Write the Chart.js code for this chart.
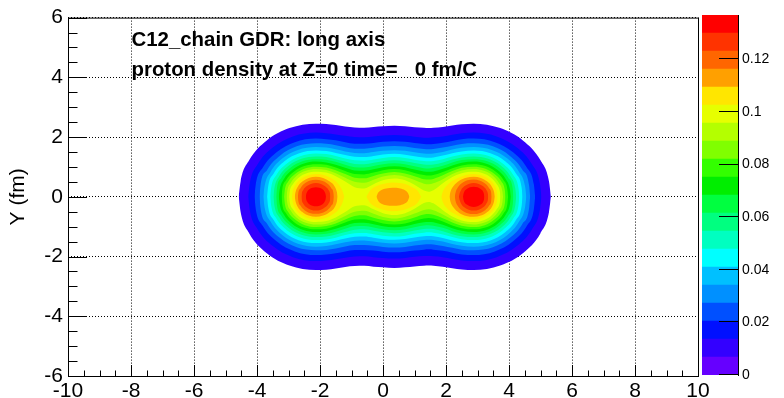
<!DOCTYPE html>
<html>
<head>
<meta charset="utf-8">
<script src="https://cdn.jsdelivr.net/npm/chart.js@4.4.1/dist/chart.umd.min.js"></script>
<style>
  html, body { margin: 0; padding: 0; background: #fff; }
  #wrap { position: relative; width: 784px; height: 398px; overflow: hidden; }
  #main { position: absolute; left: 0; top: 0; }
  #palette { position: absolute; left: 690px; top: 0; }
</style>
</head>
<body>
<div id="wrap">
  <canvas id="main" width="784" height="398"></canvas>
  <canvas id="palette" width="94" height="398"></canvas>
</div>
<script>
// contour levels (z): 20 bands from 0 to the max
const zLevels = [0, 0.00685, 0.01369, 0.02054, 0.02738, 0.03423, 0.04107, 0.04792, 0.05476, 0.06161,
  0.06845, 0.07530, 0.08214, 0.08899, 0.09583, 0.10268, 0.10952, 0.11637, 0.12321, 0.13006, 0.1369];

const bandColors = ['#6600ff', '#3300ff', '#0010ff', '#0050ff', '#0090ff', '#00c0ff', '#00ffff', '#00ffc0',
  '#00ff80', '#00ff40', '#00ee00', '#33ff00', '#80ff00', '#b4ff00', '#e6ff00', '#ffe600', '#ffa000',
  '#ff6600', '#ff3300', '#ff0000'];

// which level each outline belongs to (region above zLevels[k] gets bandColors[k])
const contourLevel = [1, 2, 3, 4, 5, 6, 7, 8, 9, 10, 11, 12, 13, 14,
  15, 15, 15, 16, 16, 16, 17, 17, 18, 18, 19, 19];

// upper half of each contour outline, [x, y] in fm (the plot is symmetric in y)
const contourUpper = [
  [[-4.58,0],[-4.52,0.51],[-4.25,1.22],[-3.70,1.88],[-2.97,2.30],[-2.13,2.45],[-1.8,2.44],[-1.5,2.40],[-1.2,2.35],[-0.9,2.32],[-0.6,2.31],[-0.3,2.34],[0,2.36],[0.36,2.38],[0.7,2.36],[1.0,2.33],[1.3,2.31],[1.45,2.30],[1.6,2.31],[1.9,2.34],[2.2,2.39],[2.5,2.43],[2.88,2.45],[3.72,2.30],[4.45,1.88],[5.00,1.22],[5.27,0.51],[5.33,0]],
  [[-4.28,0],[-4.23,0.45],[-3.99,1.07],[-3.51,1.64],[-2.86,2.02],[-2.13,2.15],[-1.8,2.13],[-1.5,2.09],[-1.2,2.04],[-0.9,2.00],[-0.6,1.99],[-0.3,2.02],[0,2.05],[0.36,2.07],[0.7,2.05],[1.0,2.01],[1.3,1.98],[1.45,1.98],[1.6,1.99],[1.9,2.02],[2.2,2.08],[2.5,2.13],[2.88,2.15],[3.61,2.02],[4.26,1.64],[4.74,1.07],[4.98,0.45],[5.03,0]],
  [[-4.08,0],[-4.04,0.41],[-3.82,0.97],[-3.38,1.49],[-2.80,1.83],[-2.13,1.95],[-1.8,1.93],[-1.5,1.89],[-1.2,1.83],[-0.9,1.78],[-0.6,1.78],[-0.3,1.80],[0,1.84],[0.36,1.86],[0.7,1.84],[1.0,1.80],[1.3,1.77],[1.45,1.76],[1.6,1.77],[1.9,1.81],[2.2,1.87],[2.5,1.93],[2.88,1.95],[3.55,1.83],[4.13,1.49],[4.57,0.97],[4.79,0.41],[4.83,0]],
  [[-3.92,0],[-3.89,0.37],[-3.68,0.90],[-3.28,1.37],[-2.74,1.69],[-2.13,1.79],[-1.8,1.78],[-1.5,1.73],[-1.2,1.66],[-0.9,1.61],[-0.6,1.61],[-0.3,1.64],[0,1.68],[0.36,1.70],[0.7,1.68],[1.0,1.63],[1.3,1.60],[1.45,1.59],[1.6,1.60],[1.9,1.65],[2.2,1.71],[2.5,1.77],[2.88,1.79],[3.49,1.69],[4.03,1.37],[4.43,0.90],[4.64,0.37],[4.67,0]],
  [[-3.80,0],[-3.76,0.35],[-3.57,0.83],[-3.20,1.28],[-2.70,1.57],[-2.13,1.67],[-1.8,1.65],[-1.5,1.59],[-1.2,1.52],[-0.9,1.47],[-0.6,1.46],[-0.3,1.50],[0,1.54],[0.36,1.56],[0.7,1.54],[1.0,1.49],[1.3,1.45],[1.45,1.44],[1.6,1.45],[1.9,1.50],[2.2,1.58],[2.5,1.64],[2.88,1.67],[3.45,1.57],[3.95,1.28],[4.32,0.83],[4.51,0.35],[4.55,0]],
  [[-3.68,0],[-3.65,0.32],[-3.47,0.78],[-3.13,1.19],[-2.66,1.46],[-2.13,1.55],[-1.8,1.53],[-1.5,1.47],[-1.2,1.40],[-0.9,1.34],[-0.6,1.33],[-0.3,1.37],[0,1.42],[0.36,1.44],[0.7,1.41],[1.0,1.36],[1.3,1.32],[1.45,1.31],[1.6,1.32],[1.9,1.38],[2.2,1.46],[2.5,1.52],[2.88,1.55],[3.41,1.46],[3.88,1.19],[4.22,0.78],[4.40,0.32],[4.43,0]],
  [[-3.58,0],[-3.55,0.30],[-3.39,0.72],[-3.06,1.11],[-2.63,1.36],[-2.13,1.45],[-1.8,1.43],[-1.5,1.37],[-1.2,1.28],[-0.9,1.22],[-0.6,1.21],[-0.3,1.25],[0,1.30],[0.36,1.33],[0.7,1.30],[1.0,1.24],[1.3,1.20],[1.45,1.19],[1.6,1.20],[1.9,1.26],[2.2,1.35],[2.5,1.42],[2.88,1.45],[3.38,1.36],[3.81,1.11],[4.14,0.72],[4.30,0.30],[4.33,0]],
  [[-3.48,0],[-3.45,0.28],[-3.30,0.68],[-3.00,1.04],[-2.59,1.27],[-2.13,1.35],[-1.8,1.33],[-1.5,1.26],[-1.2,1.18],[-0.9,1.10],[-0.6,1.09],[-0.3,1.14],[0,1.19],[0.36,1.22],[0.7,1.19],[1.0,1.13],[1.3,1.08],[1.45,1.07],[1.6,1.08],[1.9,1.15],[2.2,1.25],[2.5,1.32],[2.88,1.35],[3.34,1.27],[3.75,1.04],[4.05,0.68],[4.20,0.28],[4.23,0]],
  [[-3.39,0],[-3.37,0.26],[-3.23,0.63],[-2.94,0.97],[-2.56,1.19],[-2.13,1.26],[-1.8,1.24],[-1.5,1.17],[-1.2,1.07],[-0.9,0.99],[-0.6,0.98],[-0.3,1.03],[0,1.09],[0.36,1.12],[0.7,1.09],[1.0,1.02],[1.3,0.96],[1.45,0.95],[1.6,0.97],[1.9,1.04],[2.2,1.15],[2.5,1.23],[2.88,1.26],[3.31,1.19],[3.69,0.97],[3.98,0.63],[4.12,0.26],[4.14,0]],
  [[-3.31,0],[-3.28,0.25],[-3.15,0.59],[-2.89,0.90],[-2.53,1.11],[-2.13,1.18],[-1.8,1.15],[-1.5,1.07],[-1.2,0.97],[-0.9,0.88],[-0.6,0.87],[-0.3,0.92],[0,0.99],[0.36,1.02],[0.7,0.99],[1.0,0.91],[1.3,0.85],[1.45,0.84],[1.6,0.85],[1.9,0.94],[2.2,1.05],[2.5,1.14],[2.88,1.18],[3.28,1.11],[3.64,0.90],[3.90,0.59],[4.03,0.25],[4.06,0]],
  [[-3.22,0],[-3.20,0.23],[-3.08,0.55],[-2.83,0.84],[-2.50,1.03],[-2.13,1.09],[-1.8,1.07],[-1.5,0.98],[-1.2,0.86],[-0.9,0.76],[-0.6,0.75],[-0.3,0.81],[0,0.89],[0.36,0.93],[0.7,0.89],[1.0,0.80],[1.3,0.73],[1.45,0.71],[1.6,0.73],[1.9,0.83],[2.2,0.96],[2.5,1.05],[2.88,1.09],[3.25,1.03],[3.58,0.84],[3.83,0.55],[3.95,0.23],[3.97,0]],
  [[-3.14,0],[-3.12,0.21],[-3.01,0.51],[-2.78,0.77],[-2.48,0.95],[-2.13,1.01],[-1.8,0.98],[-1.5,0.89],[-1.2,0.76],[-0.9,0.64],[-0.6,0.62],[-0.3,0.70],[0,0.78],[0.36,0.83],[0.7,0.78],[1.0,0.69],[1.3,0.59],[1.45,0.58],[1.6,0.60],[1.9,0.72],[2.2,0.86],[2.5,0.97],[2.88,1.01],[3.23,0.95],[3.53,0.77],[3.76,0.51],[3.87,0.21],[3.89,0]],
  [[-3.06,0],[-3.04,0.19],[-2.93,0.46],[-2.73,0.71],[-2.45,0.87],[-2.13,0.93],[-1.8,0.90],[-1.5,0.79],[-1.2,0.64],[-0.9,0.50],[-0.6,0.47],[-0.3,0.57],[0,0.68],[0.36,0.73],[0.7,0.67],[1.0,0.56],[1.3,0.44],[1.45,0.42],[1.6,0.45],[1.9,0.59],[2.2,0.76],[2.5,0.88],[2.88,0.93],[3.20,0.87],[3.48,0.71],[3.68,0.46],[3.79,0.19],[3.81,0]],
  [[-2.98,0],[-2.96,0.18],[-2.86,0.42],[-2.67,0.65],[-2.42,0.79],[-2.13,0.84],[-1.8,0.81],[-1.5,0.69],[-1.2,0.51],[-0.9,0.32],[-0.6,0.28],[-0.3,0.42],[0,0.55],[0.36,0.61],[0.7,0.55],[1.0,0.40],[1.3,0.21],[1.45,0.17],[1.6,0.22],[1.9,0.45],[2.2,0.66],[2.5,0.79],[2.88,0.84],[3.17,0.79],[3.42,0.65],[3.61,0.42],[3.71,0.18],[3.73,0]],
  [[-2.89,0],[-2.87,0.16],[-2.79,0.38],[-2.62,0.58],[-2.39,0.71],[-2.13,0.76],[-1.8,0.70],[-1.55,0.56],[-1.38,0.38],[-1.28,0.18],[-1.23,0]],
  [[-0.53,0],[-0.4,0.22],[-0.2,0.36],[0,0.43],[0.3,0.48],[0.6,0.45],[0.9,0.34],[1.1,0.20],[1.21,0]],
  [[1.85,0],[1.9,0.18],[2.03,0.38],[2.25,0.56],[2.55,0.70],[2.88,0.76],[3.14,0.71],[3.37,0.58],[3.54,0.38],[3.62,0.16],[3.64,0]],
  [[-2.80,0],[-2.78,0.14],[-2.71,0.33],[-2.56,0.51],[-2.36,0.63],[-2.13,0.67],[-1.9,0.63],[-1.69,0.51],[-1.53,0.34],[-1.46,0.14],[-1.44,0]],
  [[-0.21,0],[-0.15,0.14],[-0.05,0.23],[0.1,0.28],[0.31,0.30],[0.55,0.28],[0.7,0.22],[0.79,0.13],[0.84,0]],
  [[2.11,0],[2.14,0.16],[2.24,0.36],[2.42,0.54],[2.64,0.64],[2.88,0.67],[3.11,0.63],[3.31,0.51],[3.46,0.33],[3.53,0.14],[3.55,0]],
  [[-2.70,0],[-2.69,0.12],[-2.62,0.29],[-2.50,0.44],[-2.33,0.54],[-2.13,0.57],[-1.94,0.54],[-1.76,0.44],[-1.64,0.29],[-1.57,0.12],[-1.56,0]],
  [[2.28,0],[2.30,0.13],[2.37,0.30],[2.50,0.45],[2.68,0.55],[2.88,0.58],[3.08,0.54],[3.25,0.44],[3.37,0.29],[3.44,0.12],[3.45,0]],
  [[-2.59,0],[-2.58,0.10],[-2.53,0.23],[-2.43,0.35],[-2.29,0.43],[-2.13,0.46],[-1.97,0.43],[-1.84,0.35],[-1.73,0.23],[-1.68,0.10],[-1.67,0]],
  [[2.41,0],[2.43,0.10],[2.48,0.23],[2.58,0.35],[2.72,0.43],[2.88,0.46],[3.04,0.43],[3.18,0.35],[3.28,0.23],[3.33,0.10],[3.34,0]],
  [[-2.45,0],[-2.44,0.07],[-2.41,0.16],[-2.34,0.25],[-2.24,0.30],[-2.13,0.32],[-2.02,0.30],[-1.92,0.25],[-1.85,0.16],[-1.82,0.07],[-1.81,0]],
  [[2.54,0],[2.55,0.07],[2.58,0.17],[2.66,0.26],[2.76,0.32],[2.88,0.34],[3.00,0.32],[3.10,0.26],[3.18,0.17],[3.21,0.07],[3.22,0]]
];

const titleLines = ['C12_chain GDR: long axis', 'proton density at Z=0 time=   0 fm/C'];
const yTitle = 'Y (fm)';

Chart.defaults.font.family = '"Liberation Sans", Arial, Helvetica, sans-serif';
Chart.defaults.color = '#000';

// each outline becomes a mirrored lower line + an upper line filled down to it
const datasets = [];
contourUpper.forEach((pts, i) => {
  const k = contourLevel[i];
  const common = {
    showLine: true, pointRadius: 0, borderWidth: 0, borderColor: 'rgba(0,0,0,0)',
    cubicInterpolationMode: 'monotone', order: -k
  };
  datasets.push({ ...common, data: pts.map(p => ({ x: p[0], y: -p[1] })), fill: false });
  datasets.push({ ...common, data: pts.map(p => ({ x: p[0], y: p[1] })), fill: '-1', backgroundColor: bandColors[k] });
});

const framePlugin = {
  id: 'frame',
  afterDraw(chart) {
    const { ctx, chartArea: a, scales: { x, y } } = chart;
    ctx.save();
    ctx.strokeStyle = '#000';
    ctx.lineWidth = 1;
    ctx.beginPath();
    // inner ticks, ROOT style
    for (let v = -10; v <= 10.001; v += 0.5) {
      const px = Math.round(x.getPixelForValue(v)) + 0.5;
      const len = Math.abs(v % 2) < 1e-6 ? 11 : 5.5;
      ctx.moveTo(px, a.bottom);
      ctx.lineTo(px, a.bottom - len);
    }
    for (let v = -6; v <= 6.001; v += 0.5) {
      const py = Math.round(y.getPixelForValue(v)) + 0.5;
      const len = Math.abs(v % 2) < 1e-6 ? 19 : 9.5;
      ctx.moveTo(a.left, py);
      ctx.lineTo(a.left + len, py);
    }
    ctx.stroke();
    ctx.strokeRect(a.left + 0.5, a.top + 0.5, a.right - a.left, a.bottom - a.top);

    ctx.fillStyle = '#000';
    ctx.font = 'bold 20.4px "Liberation Sans", Arial, sans-serif';
    ctx.textBaseline = 'alphabetic';
    ctx.fillText(titleLines[0], 131.5, 46);
    ctx.fillText(titleLines[1], 131.5, 76);
    ctx.restore();
  }
};

new Chart(document.getElementById('main'), {
  type: 'scatter',
  data: { datasets },
  options: {
    responsive: false,
    animation: false,
    events: [],
    layout: { padding: { top: 15, right: 86, left: 0, bottom: 0 } },
    plugins: { legend: { display: false }, tooltip: { enabled: false } },
    scales: {
      x: {
        type: 'linear', min: -10, max: 10, z: 1,
        ticks: { stepSize: 2, font: { size: 21 }, padding: 3, maxRotation: 0, autoSkip: false },
        grid: { color: '#000', lineWidth: 1, drawTicks: false },
        border: { display: false, dash: [1, 2] },
        afterFit: s => { s.height = 22; }
      },
      y: {
        type: 'linear', min: -6, max: 6, z: 1,
        ticks: { stepSize: 2, font: { size: 21 }, padding: 5 },
        grid: { color: '#000', lineWidth: 1, drawTicks: false },
        border: { display: false, dash: [1, 2] },
        title: { display: true, text: yTitle, font: { size: 21 }, padding: { top: 6, bottom: 0 } },
        afterFit: s => { s.width = 68; }
      }
    }
  },
  plugins: [framePlugin]
});

const paletteTicks = {
  id: 'paletteTicks',
  afterDraw(chart) {
    const { ctx, chartArea: a, scales: { y } } = chart;
    ctx.save();
    ctx.strokeStyle = '#000';
    ctx.lineWidth = 1;
    ctx.beginPath();
    y.ticks.forEach(t => {
      if (Math.abs(t.value * 50 - Math.round(t.value * 50)) > 1e-6) return;
      const py = Math.round(y.getPixelForValue(t.value)) - 0.5;
      ctx.moveTo(a.right - 19, py);
      ctx.lineTo(a.right, py);
    });
    ctx.stroke();
    ctx.restore();
  }
};

new Chart(document.getElementById('palette'), {
  type: 'bar',
  data: {
    labels: [''],
    datasets: bandColors.map((c, i) => ({
      data: [[zLevels[i], zLevels[i + 1]]],
      backgroundColor: c, borderWidth: 0,
      barPercentage: 1, categoryPercentage: 1, grouped: false
    }))
  },
  options: {
    responsive: false,
    animation: false,
    events: [],
    layout: { padding: { left: 12, top: 15, bottom: 23, right: 0 } },
    plugins: { legend: { display: false }, tooltip: { enabled: false } },
    scales: {
      x: { display: false },
      y: {
        position: 'right', min: 0, max: zLevels[zLevels.length - 1],
        ticks: {
          stepSize: 0.02, font: { size: 14 }, padding: 4,
          callback: v => (Math.abs(v * 50 - Math.round(v * 50)) < 1e-6 ? String(Math.round(v * 50) / 50) : '')
        },
        grid: { display: false, drawTicks: false },
        border: { display: true, color: '#000', width: 1 },
        afterFit: s => { s.width = 46; }
      }
    }
  },
  plugins: [paletteTicks]
});
</script>
</body>
</html>
